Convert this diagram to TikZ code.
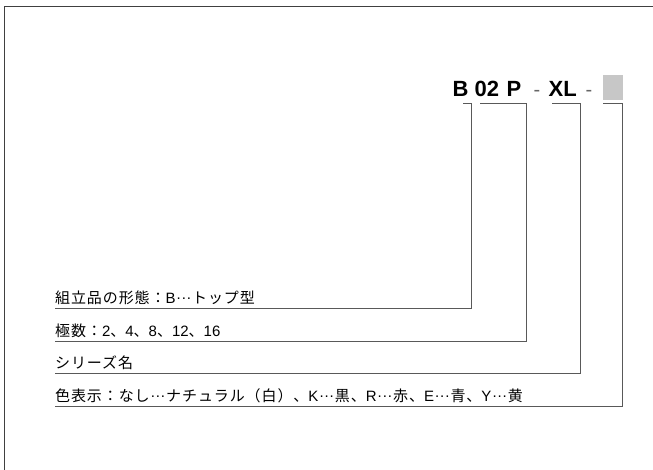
\documentclass[tikz,border=0pt]{standalone}
\usepackage{fontspec}
\setmainfont{Liberation Sans}
\newfontfamily\jpfont[LetterSpace=6]{Noto Sans CJK JP}
\newcommand{\jp}[1]{{\jpfont #1}}
\newcommand{\jpell}{\makebox[1.1em][c]{\raisebox{0.26em}{.\kern0.06em.\kern0.06em.}}}
\usetikzlibrary{calc}

\begin{document}
\begin{tikzpicture}[x=1pt, y=-1pt,
  code/.style={inner sep=0pt, anchor=base west, font=\bfseries\fontsize{22}{22}\selectfont},
  hyph/.style={inner sep=0pt, anchor=base west, text=black!60, font=\fontsize{20}{20}\selectfont},
  desc/.style={inner xsep=0pt, inner ysep=3pt, anchor=south west, font=\fontsize{15}{15}\selectfont},
  lead/.style={draw=black!65, line width=0.9pt}]
\useasboundingbox (0,0) rectangle (653,470);
% frame
\draw[black!75, line width=1pt] (4.5,470) -- (4.5,6.5) -- (653,6.5);
% part number
\path
(452.5,97) node[code] (b) {B};
\path
(474.5,97) node[code] (pole) {02};
\path
(506.5,97) node[code] (p) {P};
\path
(533.5,97) node[hyph] (h1) {-};
\path
(548.5,97) node[code] (xl) {XL};
\path
(585.5,97) node[hyph] (h2) {-};
\node[fill=black!22, inner sep=0pt, minimum width=20pt, minimum height=25pt] (col) at (612.5,87.5) {};
% descriptions
\node[desc] (d1) at (55,308) {\jp{組立品の形態：}B\jpell\jp{トップ型}};
\node[desc] (d2) at (55,341) {\jp{極数：}2\jp{、}4\jp{、}8\jp{、}12\jp{、}16};
\node[desc] (d3) at (55,373) {\jp{シリーズ名}};
\node[desc] (d4) at (55,406) {\jp{色表示：なし}\jpell\jp{ナチュラル（白）、}K\jpell\jp{黒、}R\jpell\jp{赤、}E\jpell\jp{青、}Y\jpell\jp{黄}};
% leaders
\draw[lead] (463,103) -| (471,308) -- (d1.south west);
\draw[lead] (480,103) -| (526.5,341) -- (d2.south west);
\draw[lead] (552,103) -| (580,373) -- (d3.south west);
\draw[lead] (603,103) -| (622,406) -- (d4.south west);
\end{tikzpicture}
\end{document}
